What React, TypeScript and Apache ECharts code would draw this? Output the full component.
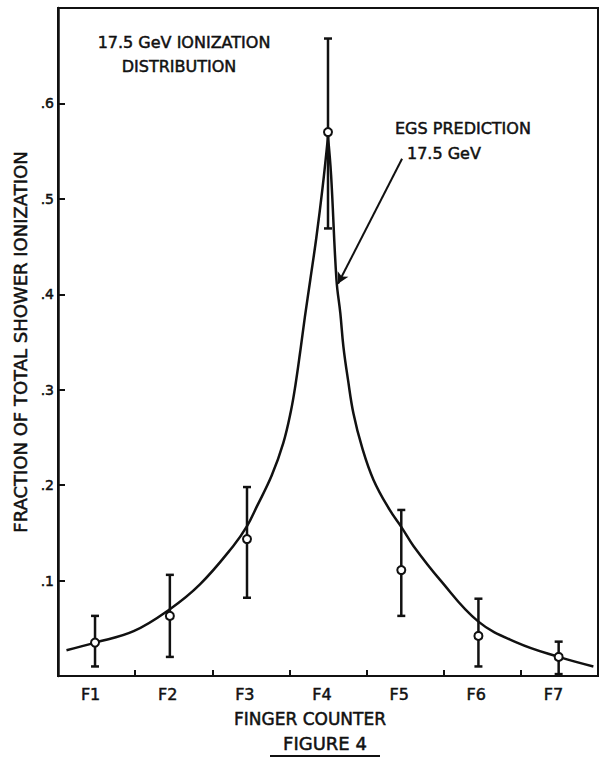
import React, { useEffect, useRef } from "react";
import * as echarts from "echarts";

// ---- data ----
const categories = ["F1", "F2", "F3", "F4", "F5", "F6", "F7"];
const yTickLabels = [".1", ".2", ".3", ".4", ".5", ".6"];

// measured points (x position on the finger axis, value, error bar low/high)
const pointX = [0.98, 1.95, 2.95, 4.0, 4.95, 5.95, 6.99];
const measured = [0.035, 0.063, 0.1435, 0.57, 0.111, 0.042, 0.02];
const errLow = [0.01, 0.02, 0.082, 0.469, 0.063, 0.01, 0.002];
const errHigh = [0.063, 0.106, 0.198, 0.668, 0.174, 0.081, 0.036];

// EGS prediction curve (left and right branches meeting at the cusp)
const curveLeftX = [0.61, 0.98, 1.48, 1.95, 2.34, 2.77, 2.95, 3.08, 3.27, 3.42, 3.52, 3.58, 3.64, 3.7, 3.77, 3.85, 3.93, 4.0];
const curveLeftY = [0.027, 0.035, 0.047, 0.07, 0.096, 0.136, 0.157, 0.178, 0.21, 0.244, 0.278, 0.306, 0.34, 0.376, 0.415, 0.46, 0.512, 0.565];
const curveRightX = [4.0, 4.04, 4.11, 4.16, 4.2, 4.26, 4.33, 4.44, 4.59, 4.8, 4.96, 5.11, 5.45, 5.95, 6.45, 6.99, 7.44];
const curveRightY = [0.565, 0.525, 0.415, 0.38, 0.345, 0.31, 0.275, 0.24, 0.2055, 0.174, 0.155, 0.136, 0.101, 0.057, 0.035, 0.02, 0.01];

// annotation arrow (data coordinates)
const arrowFrom = [4.96, 0.542];
const arrowTo = [4.13, 0.411];

const INK = "#111";
const FONT = '"DejaVu Sans", sans-serif';
const BOLDEN = { textBorderColor: INK, textBorderWidth: 0.5 };

export default function App() {
  const ref = useRef<HTMLDivElement>(null);

  useEffect(() => {
    if (!ref.current) return;
    const chart = echarts.init(ref.current, undefined, { renderer: "svg" });

    const points = pointX.map((x, i) => [x, measured[i]]);
    const bars = pointX.map((x, i) => [x, errLow[i], errHigh[i]]);
    const left = curveLeftX.map((x, i) => [x, curveLeftY[i]]);
    const right = curveRightX.map((x, i) => [x, curveRightY[i]]);

    const txt = (text: string, x: number, y: number, size: number, align = "center") => ({
      type: "text",
      x,
      y,
      silent: true,
      style: {
        text,
        font: `${size}px ${FONT}`,
        fill: INK,
        stroke: INK,
        lineWidth: 0.5,
        textAlign: align,
        textVerticalAlign: "middle",
        align,
        verticalAlign: "middle",
      },
    });

    chart.setOption({
      animation: false,
      backgroundColor: "#fff",
      textStyle: { fontFamily: FONT, color: INK },
      grid: {
        left: 58,
        right: 3,
        top: 8,
        bottom: 84,
        show: true,
        borderColor: INK,
        borderWidth: 2,
        backgroundColor: "transparent",
      },
      xAxis: [
        {
          type: "category",
          data: categories,
          boundaryGap: true,
          axisLine: { show: true, lineStyle: { color: INK, width: 2 } },
          axisTick: { show: true, inside: true, length: 6, lineStyle: { color: INK, width: 2 } },
          axisLabel: {
            color: INK,
            fontFamily: FONT,
            fontSize: 16,
            margin: 10,
            padding: [0, 12, 0, 0],
            ...BOLDEN,
          },
          splitLine: { show: false },
          name: "FINGER COUNTER",
          nameLocation: "middle",
          nameGap: 34,
          nameTextStyle: { color: INK, fontFamily: FONT, fontSize: 17, padding: [0, 36, 0, 0], ...BOLDEN },
        },
        { type: "value", min: 0.5, max: 7.5, show: false },
      ],
      yAxis: {
        type: "value",
        min: 0,
        max: 0.7,
        interval: 0.1,
        axisLine: { show: true, lineStyle: { color: INK, width: 2.5 } },
        axisTick: { show: true, inside: true, length: 7, lineStyle: { color: INK, width: 2 } },
        axisLabel: {
          color: INK,
          fontFamily: FONT,
          fontSize: 14,
          margin: 4,
          ...BOLDEN,
          formatter: (v: number) => {
            const i = Math.round(v * 10);
            return i >= 1 && i <= 6 ? yTickLabels[i - 1] : "";
          },
        },
        splitLine: { show: false },
        name: "FRACTION OF TOTAL SHOWER IONIZATION",
        nameLocation: "middle",
        nameGap: 25,
        nameTextStyle: { color: INK, fontFamily: FONT, fontSize: 18, ...BOLDEN },
      },
      series: [
        {
          type: "line",
          name: "EGS left",
          xAxisIndex: 1,
          data: left,
          smooth: 0.4,
          showSymbol: false,
          lineStyle: { color: INK, width: 2.5 },
          z: 2,
        },
        {
          type: "line",
          name: "EGS right",
          xAxisIndex: 1,
          data: right,
          smooth: 0.4,
          showSymbol: false,
          lineStyle: { color: INK, width: 2.5 },
          z: 2,
          markLine: {
            silent: true,
            symbol: ["none", "arrow"],
            symbolSize: [9, 11],
            label: { show: false },
            lineStyle: { color: INK, width: 2, type: "solid" },
            data: [[{ coord: arrowFrom }, { coord: arrowTo }]],
          },
        },
        {
          type: "custom",
          name: "error bars",
          xAxisIndex: 1,
          data: bars,
          encode: { x: 0, y: [1, 2] },
          z: 3,
          renderItem: (_p: any, api: any) => {
            const x = api.value(0);
            const lo = api.coord([x, api.value(1)]);
            const hi = api.coord([x, api.value(2)]);
            const w = 4;
            const st = { stroke: INK, lineWidth: 2.5 };
            return {
              type: "group",
              children: [
                { type: "line", shape: { x1: lo[0], y1: lo[1], x2: hi[0], y2: hi[1] }, style: st },
                { type: "line", shape: { x1: lo[0] - w, y1: lo[1], x2: lo[0] + w, y2: lo[1] }, style: st },
                { type: "line", shape: { x1: hi[0] - w, y1: hi[1], x2: hi[0] + w, y2: hi[1] }, style: st },
              ],
            };
          },
        },
        {
          type: "scatter",
          name: "measured",
          xAxisIndex: 1,
          data: points,
          symbol: "circle",
          symbolSize: 8,
          itemStyle: { color: "#fff", borderColor: INK, borderWidth: 2, opacity: 1 },
          z: 4,
        },
      ],
      graphic: [
        txt("17.5 GeV IONIZATION", 184, 42, 16),
        txt("DISTRIBUTION", 179, 66, 16),
        txt("EGS PREDICTION", 395, 128, 16, "left"),
        txt("17.5 GeV", 407, 153, 16, "left"),
        txt("FIGURE 4", 325, 743, 18),
        {
          type: "line",
          silent: true,
          shape: { x1: 270, y1: 756, x2: 380, y2: 756 },
          style: { stroke: INK, lineWidth: 2 },
        },
      ],
    });

    return () => chart.dispose();
  }, []);

  return (
    <div
      ref={ref}
      style={{ position: "fixed", left: 0, top: 0, width: 601, height: 760, background: "#fff" }}
    />
  );
}
